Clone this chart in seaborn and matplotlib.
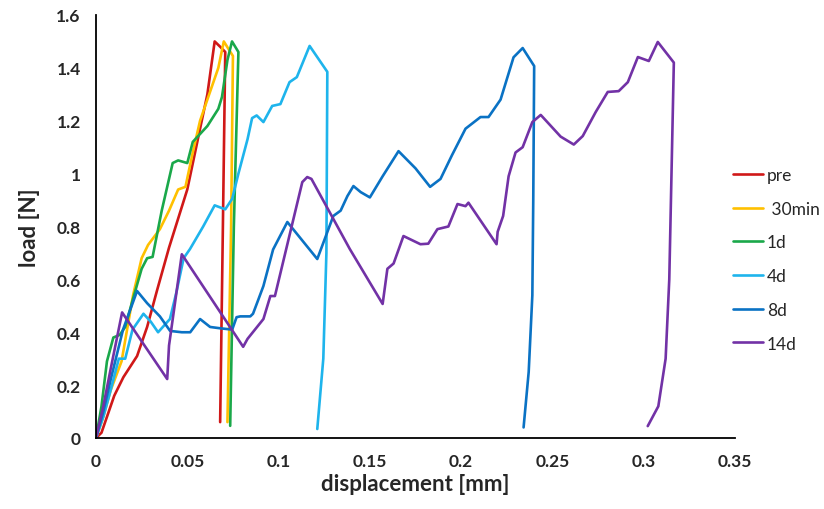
import numpy as np
import pandas as pd
import matplotlib
matplotlib.use("Agg")
import matplotlib.pyplot as plt
import seaborn as sns

labels = ["pre", " 30min", "1d", "4d", "8d", "14d"]
colors = ["#D01818", "#FFC000", "#1AA84A", "#1EB4EC", "#0A72C4", "#7232A6"]

pre_x = [0, 0.003, 0.006, 0.010, 0.015, 0.0225, 0.028, 0.0335, 0.040, 0.045, 0.050, 0.057, 0.061, 0.065, 0.068, 0.0708, 0.0695, 0.068]
pre_y = [0, 0.02, 0.08, 0.16, 0.23, 0.31, 0.42, 0.56, 0.72, 0.83, 0.94, 1.17, 1.30, 1.50, 1.48, 1.46, 0.80, 0.06]

m30_x = [0, 0.004, 0.008, 0.014, 0.0203, 0.025, 0.0285, 0.035, 0.040, 0.045, 0.049, 0.053, 0.057, 0.062, 0.067, 0.070, 0.075, 0.074, 0.072]
m30_y = [0, 0.08, 0.18, 0.29, 0.54, 0.68, 0.73, 0.79, 0.86, 0.94, 0.95, 1.08, 1.20, 1.30, 1.40, 1.50, 1.445, 0.80, 0.06]

d1_x = [0, 0.003, 0.006, 0.0095, 0.013, 0.016, 0.020, 0.025, 0.028, 0.031, 0.036, 0.042, 0.045, 0.050, 0.053, 0.057, 0.061, 0.067, 0.069, 0.072, 0.0745, 0.078, 0.0755, 0.0735]
d1_y = [0, 0.12, 0.29, 0.38, 0.39, 0.42, 0.52, 0.64, 0.68, 0.685, 0.86, 1.04, 1.05, 1.04, 1.12, 1.15, 1.18, 1.245, 1.29, 1.43, 1.50, 1.46, 0.80, 0.046]

d4_x = [0, 0.004, 0.008, 0.0125, 0.016, 0.020, 0.026, 0.030, 0.034, 0.0405, 0.044, 0.048, 0.0515, 0.0587, 0.065, 0.0708, 0.0746, 0.078, 0.083, 0.0855, 0.088, 0.0917, 0.0965, 0.101, 0.106, 0.110, 0.117, 0.1267, 0.1262, 0.1245, 0.1212]
d4_y = [0, 0.08, 0.18, 0.30, 0.30, 0.41, 0.47, 0.44, 0.40, 0.45, 0.55, 0.68, 0.715, 0.80, 0.88, 0.865, 0.905, 1.00, 1.13, 1.21, 1.22, 1.195, 1.256, 1.263, 1.346, 1.365, 1.483, 1.385, 0.70, 0.30, 0.034]

d8_x = [0, 0.004, 0.008, 0.0148, 0.0225, 0.028, 0.035, 0.0406, 0.047, 0.0516, 0.057, 0.0625, 0.068, 0.0746, 0.077, 0.079, 0.0845, 0.086, 0.089, 0.0917, 0.097, 0.1048, 0.1212, 0.130, 0.134, 0.1377, 0.141, 0.145, 0.150, 0.157, 0.1657, 0.175, 0.183, 0.1887, 0.195, 0.2024, 0.2106, 0.215, 0.2216, 0.2287, 0.2337, 0.240, 0.2395, 0.239, 0.237, 0.2342]
d8_y = [0, 0.10, 0.22, 0.41, 0.556, 0.51, 0.46, 0.405, 0.40, 0.40, 0.45, 0.42, 0.415, 0.41, 0.457, 0.46, 0.46, 0.47, 0.525, 0.575, 0.713, 0.817, 0.677, 0.84, 0.86, 0.915, 0.953, 0.93, 0.91, 0.99, 1.085, 1.02, 0.95, 0.98, 1.07, 1.17, 1.214, 1.214, 1.28, 1.44, 1.475, 1.407, 0.90, 0.54, 0.25, 0.04]

d14_x = [0, 0.004, 0.008, 0.0143, 0.039, 0.040, 0.047, 0.0806, 0.083, 0.0917, 0.0955, 0.098, 0.113, 0.1157, 0.118, 0.139, 0.157, 0.1596, 0.163, 0.1684, 0.1777, 0.182, 0.187, 0.193, 0.198, 0.2024, 0.204, 0.2194, 0.220, 0.223, 0.226, 0.2298, 0.2337, 0.239, 0.2436, 0.2545, 0.2617, 0.2666, 0.2737, 0.2803, 0.2863, 0.2913, 0.2968, 0.3028, 0.3077, 0.3165, 0.314, 0.312, 0.308, 0.3022]
d14_y = [0, 0.12, 0.26, 0.475, 0.223, 0.35, 0.695, 0.345, 0.375, 0.45, 0.537, 0.537, 0.968, 0.987, 0.98, 0.715, 0.507, 0.64, 0.66, 0.764, 0.733, 0.735, 0.79, 0.80, 0.885, 0.877, 0.89, 0.733, 0.78, 0.84, 0.99, 1.08, 1.10, 1.195, 1.222, 1.14, 1.11, 1.142, 1.233, 1.309, 1.312, 1.346, 1.441, 1.426, 1.498, 1.42, 0.60, 0.30, 0.12, 0.045]

xticks = [0, 0.05, 0.1, 0.15, 0.2, 0.25, 0.3, 0.35]
xticklabels = ["0", "0.05", "0.1", "0.15", "0.2", "0.25", "0.3", "0.35"]
yticks = [0, 0.2, 0.4, 0.6, 0.8, 1.0, 1.2, 1.4, 1.6]
yticklabels = ["0", "0.2", "0.4", "0.6", "0.8", "1", "1.2", "1.4", "1.6"]

series = [(pre_x, pre_y), (m30_x, m30_y), (d1_x, d1_y), (d4_x, d4_y), (d8_x, d8_y), (d14_x, d14_y)]
frames = []
for lab, (xs, ys) in zip(labels, series):
    frames.append(pd.DataFrame({"x": xs, "y": ys, "series": lab}))
df = pd.concat(frames, ignore_index=True)

sns.set_style("white")
plt.rcParams["font.family"] = ["Lato", "DejaVu Sans"]

fig = plt.figure(figsize=(8.24, 5.10), dpi=100)
ax = fig.add_axes([96 / 824, 71 / 510, (735 - 96) / 824, (439 - 16) / 510])

sns.lineplot(data=df, x="x", y="y", hue="series", hue_order=labels,
             palette=colors, sort=False, estimator=None, units="series",
             linewidth=1.9, ax=ax)
for ln in ax.get_lines():
    ln.set_solid_joinstyle("round")
    ln.set_solid_capstyle("round")

ax.set_xlim(0, 0.35)
ax.set_ylim(0, 1.6)
ax.set_xticks(xticks)
ax.set_xticklabels(xticklabels, fontsize=12.5, fontweight="bold")
ax.set_yticks(yticks)
ax.set_yticklabels(yticklabels, fontsize=12.5, fontweight="bold")
ax.tick_params(axis="both", direction="out", length=5, width=1.3, color="black", pad=6)
for s in ["top", "right"]:
    ax.spines[s].set_visible(False)
for s in ["left", "bottom"]:
    ax.spines[s].set_color("black")
    ax.spines[s].set_linewidth(1.3)
ax.set_xlabel("displacement [mm]", fontsize=16, fontweight="bold", labelpad=3)
ax.set_ylabel("load [N]", fontsize=16, fontweight="bold", labelpad=12)

handles, labs = ax.get_legend_handles_labels()
leg = ax.legend(handles, labs, loc="upper left", bbox_to_anchor=(733 / 824, 1 - 168 / 510),
                bbox_transform=fig.transFigure, frameon=False, fontsize=12.5,
                handlelength=1.7, handletextpad=0.25, labelspacing=1.02, borderaxespad=0, borderpad=0)
for line in leg.get_lines():
    line.set_linewidth(1.9)

fig.savefig("out.png", dpi=100)
